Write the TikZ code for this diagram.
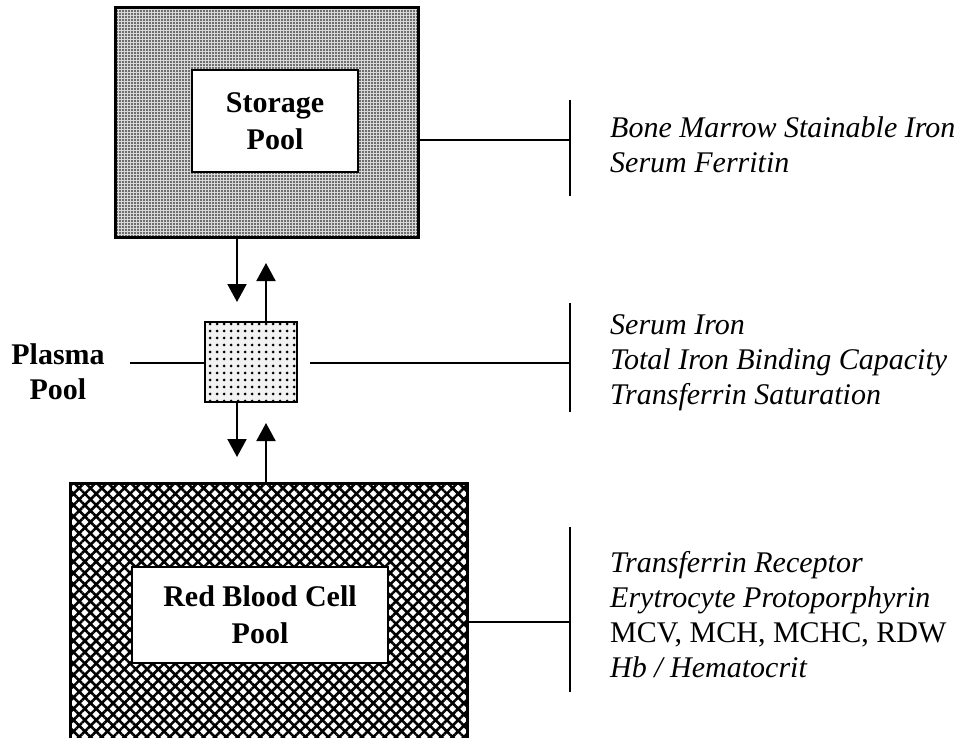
\documentclass[tikz,border=0pt]{standalone}
\usepackage{fontspec}
\setmainfont{Liberation Serif}
\usetikzlibrary{arrows.meta,patterns.meta}
\begin{document}
\begin{tikzpicture}[x=1pt,y=-1pt,
  outerbox/.style={draw=black,line width=3pt,minimum width=#1,inner sep=0pt},
  innerbox/.style={draw=black,line width=1.5pt,fill=white,inner sep=0pt,align=center,font=\fontsize{30}{37}\selectfont\bfseries},
  conn/.style={line width=1.5pt},
  bar/.style={line width=1.5pt},
  arr/.style={line width=2pt,-{Triangle[width=19pt,length=18pt]}},
  info/.style={anchor=west,align=left,inner sep=0pt,font=\fontsize{30}{35}\selectfont\itshape},
  lbl/.style={align=center,inner sep=0pt,font=\fontsize{30}{35}\selectfont\bfseries}]
\useasboundingbox (0,0) rectangle (966,737);
\clip (0,0) rectangle (966,737);
% storage pool
\node[outerbox=303pt,minimum height=230pt,preaction={fill=gray!30},pattern={Dots[distance=3pt,radius=0.95pt]}] (storage) at (266.5,122) {};
\node[innerbox,minimum width=166pt,minimum height=102pt] (storagein) at (275,121) {Storage\\Pool};
% plasma pool
\node[outerbox=92pt,minimum height=80pt,line width=2pt,preaction={fill=gray!10},pattern={Dots[distance=7pt,radius=1.5pt]}] (plasma) at (251,362) {};
\node[lbl] (plasmalbl) at (58,372) {Plasma\\Pool};
% red blood cell pool
\node[outerbox=397pt,minimum height=290pt,pattern={Hatch[angle=45,distance=8pt,line width=2.6pt]}] (rbc) at (268.5,628) {};
\node[innerbox,minimum width=256pt,minimum height=96pt] (rbcin) at (260,615) {Red Blood Cell\\Pool};
% bars and coordinates
\coordinate (sbar) at (570,140);
\coordinate (pbar) at (570,363);
\coordinate (rbar) at (570,622);
\coordinate (pleft) at (130,363);
\coordinate (pright) at (310,363);
\draw[bar] (570,100) -- (570,196);
\draw[bar] (570,303) -- (570,412);
\draw[bar] (570,527) -- (570,692);
\draw[conn] (storage.east |- sbar) -- (sbar);
\draw[conn] (pleft) -- (plasma.west |- pleft);
\draw[conn] (pright) -- (pbar);
\draw[conn] (rbc.east |- rbar) -- (rbar);
% arrows
\coordinate (a1) at (237,302);
\coordinate (a2) at (266,263);
\coordinate (a3) at (237,457);
\coordinate (a4) at (266,423);
\draw[arr] (storage.south -| a1) -- (a1);
\draw[arr] (plasma.north -| a2) -- (a2);
\draw[arr] (plasma.south -| a3) -- (a3);
\draw[arr] (rbc.north -| a4) -- (a4);
% info texts
\node[info] (t1) at (610,145) {Bone Marrow Stainable Iron\\Serum Ferritin};
\node[info] (t2) at (610,363) {Serum Iron\\Total Iron Binding Capacity\\Transferrin Saturation};
\node[info] (t3) at (610,615) {Transferrin Receptor\\Erytrocyte Protoporphyrin\\\upshape MCV, MCH, MCHC, RDW\\Hb / Hematocrit};
\end{tikzpicture}
\end{document}
